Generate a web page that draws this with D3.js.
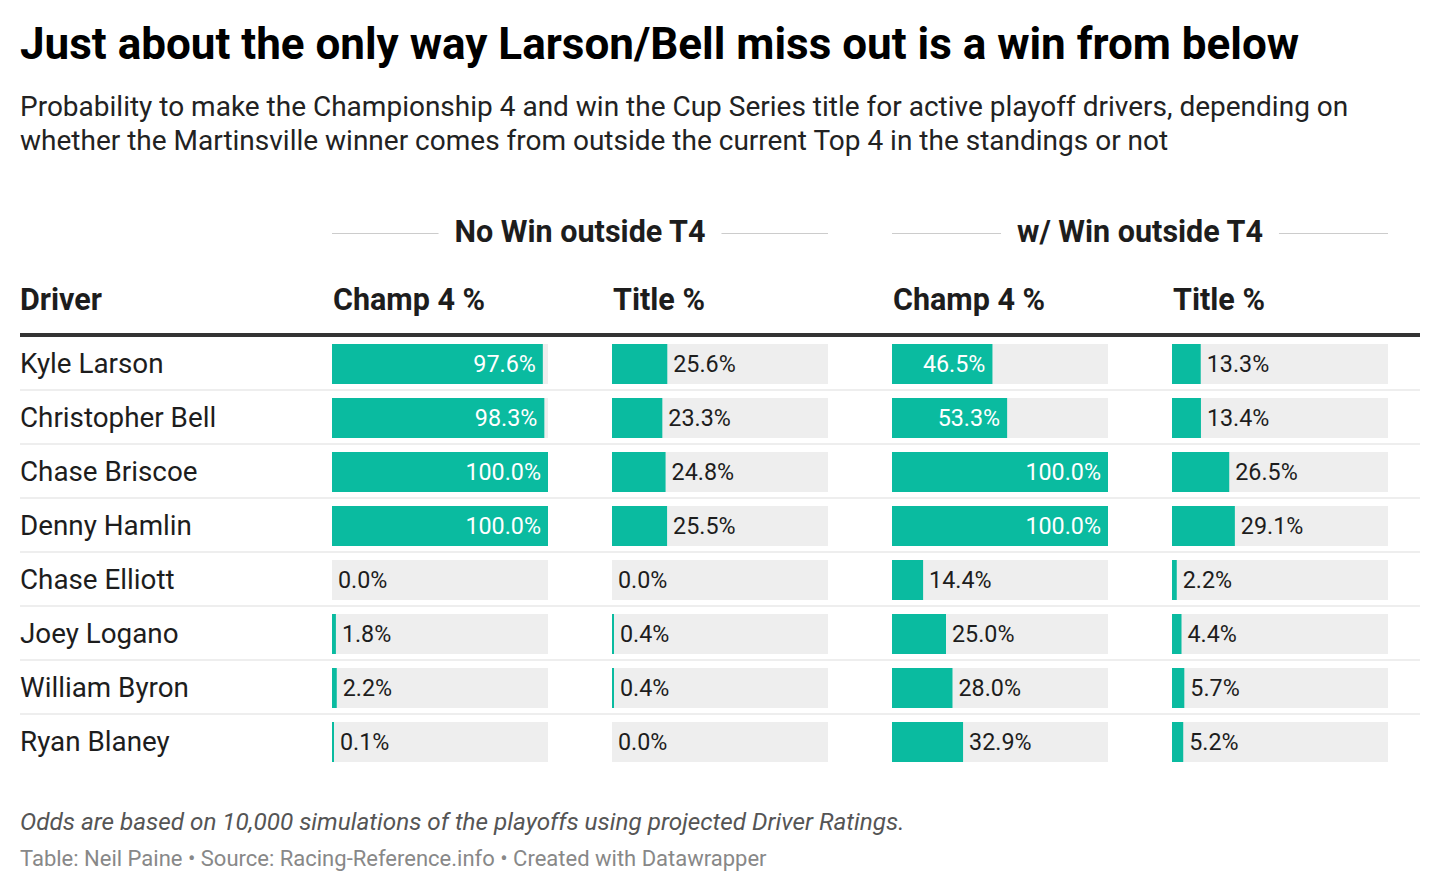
<!DOCTYPE html>
<html lang="en">
<head>
    <meta charset="UTF-8">
    <title>Larson/Bell Championship 4 odds</title>
    <script src="https://cdn.jsdelivr.net/npm/d3@7/dist/d3.min.js"></script>
    <style>
        body { margin: 0; background: #fff; font-family: Roboto, sans-serif; }
        svg text { font-family: Roboto, sans-serif; }
    </style>
</head>
<body>
<script>
    // data
    const drivers = ['Kyle Larson', 'Christopher Bell', 'Chase Briscoe', 'Denny Hamlin',
        'Chase Elliott', 'Joey Logano', 'William Byron', 'Ryan Blaney'];
    const noWinChamp4 = [97.6, 98.3, 100.0, 100.0, 0.0, 1.8, 2.2, 0.1];
    const noWinTitle = [25.6, 23.3, 24.8, 25.5, 0.0, 0.4, 0.4, 0.0];
    const winChamp4 = [46.5, 53.3, 100.0, 100.0, 14.4, 25.0, 28.0, 32.9];
    const winTitle = [13.3, 13.4, 26.5, 29.1, 2.2, 4.4, 5.7, 5.2];
    const groups = ['No Win outside T4', 'w/ Win outside T4'];
    const colLabels = ['Champ 4 %', 'Title %', 'Champ 4 %', 'Title %'];

    const W = 1440, H = 892;
    const teal = '#0abba0', track = '#eeeeee', ink = '#1d1d1d';
    const colX = [332, 612, 892, 1172], colW = 216;
    const rowTop = 337, rowH = 54;

    const svg = d3.select('body').append('svg')
        .attr('width', W).attr('height', H);

    // title + subtitle
    svg.append('text').attr('x', 20).attr('y', 59)
        .attr('font-size', 44).attr('font-weight', 700).attr('fill', '#000')
        .text('Just about the only way Larson/Bell miss out is a win from below');
    const sub = ['Probability to make the Championship 4 and win the Cup Series title for active playoff drivers, depending on',
        'whether the Martinsville winner comes from outside the current Top 4 in the standings or not'];
    svg.selectAll('.sub').data(sub).enter().append('text')
        .attr('x', 20).attr('y', (d, i) => 116 + i * 34)
        .attr('font-size', 28).attr('fill', '#222')
        .text(d => d);

    // group headers with rules
    groups.forEach((g, i) => {
        const x0 = colX[i * 2], x1 = colX[i * 2 + 1] + colW, cx = (x0 + x1) / 2;
        const t = svg.append('text').attr('x', cx).attr('y', 242)
            .attr('text-anchor', 'middle').attr('font-size', 30.5).attr('font-weight', 700)
            .attr('fill', ink).text(g);
        const tw = t.node().getComputedTextLength();
        svg.append('line').attr('x1', x0).attr('x2', cx - tw / 2 - 16)
            .attr('y1', 233.5).attr('y2', 233.5).attr('stroke', '#ccc');
        svg.append('line').attr('x1', cx + tw / 2 + 16).attr('x2', x1)
            .attr('y1', 233.5).attr('y2', 233.5).attr('stroke', '#ccc');
    });

    // column headers
    svg.append('text').attr('x', 20).attr('y', 310)
        .attr('font-size', 30.5).attr('font-weight', 700).attr('fill', ink).text('Driver');
    colLabels.forEach((c, i) => {
        svg.append('text').attr('x', colX[i] + 1).attr('y', 310)
            .attr('font-size', 30.5).attr('font-weight', 700).attr('fill', ink).text(c);
    });
    svg.append('rect').attr('x', 20).attr('y', 333).attr('width', 1400).attr('height', 4)
        .attr('fill', '#333');

    const y = d3.scaleBand().domain(drivers).range([rowTop, rowTop + rowH * drivers.length]);
    const x = d3.scaleLinear().domain([0, 100]).range([0, colW]);

    // row separators
    svg.selectAll('.sep').data(drivers.slice(0, -1)).enter().append('rect')
        .attr('x', 20).attr('width', 1400).attr('height', 2)
        .attr('y', d => y(d) + rowH - 2).attr('fill', '#eeeeee');

    // driver names
    svg.selectAll('.name').data(drivers).enter().append('text')
        .attr('x', 20).attr('y', d => y(d) + 36)
        .attr('font-size', 27.8).attr('fill', ink).text(d => d);

    const cols = [noWinChamp4, noWinTitle, winChamp4, winTitle];
    cols.forEach((vals, ci) => {
        const g = svg.append('g').attr('transform', 'translate(' + colX[ci] + ',0)');
        const rows = g.selectAll('g').data(vals).enter().append('g')
            .attr('transform', (d, i) => 'translate(0,' + (y(drivers[i]) + 7) + ')');
        rows.append('rect').attr('width', colW).attr('height', 40).attr('fill', track);
        rows.append('rect').attr('height', 40).attr('fill', teal)
            .attr('width', d => d > 0 ? Math.max(2, x(d)) : 0);
        rows.append('text')
            .attr('y', 28).attr('font-size', 23.3)
            .attr('text-anchor', d => d >= 40 ? 'end' : 'start')
            .attr('x', d => d >= 40 ? x(d) - 7 : (d > 0 ? Math.max(2, x(d)) : 0) + 6)
            .attr('fill', d => d >= 40 ? '#fff' : ink)
            .text(d => d.toFixed(1) + '%');
    });

    // notes
    svg.append('text').attr('x', 20).attr('y', 830)
        .attr('font-size', 24.3).attr('font-style', 'italic').attr('fill', '#555')
        .text('Odds are based on 10,000 simulations of the playoffs using projected Driver Ratings.');
    svg.append('text').attr('x', 20).attr('y', 866)
        .attr('font-size', 22).attr('fill', '#888')
        .text('Table: Neil Paine • Source: Racing-Reference.info • Created with Datawrapper');
</script>
</body>
</html>
